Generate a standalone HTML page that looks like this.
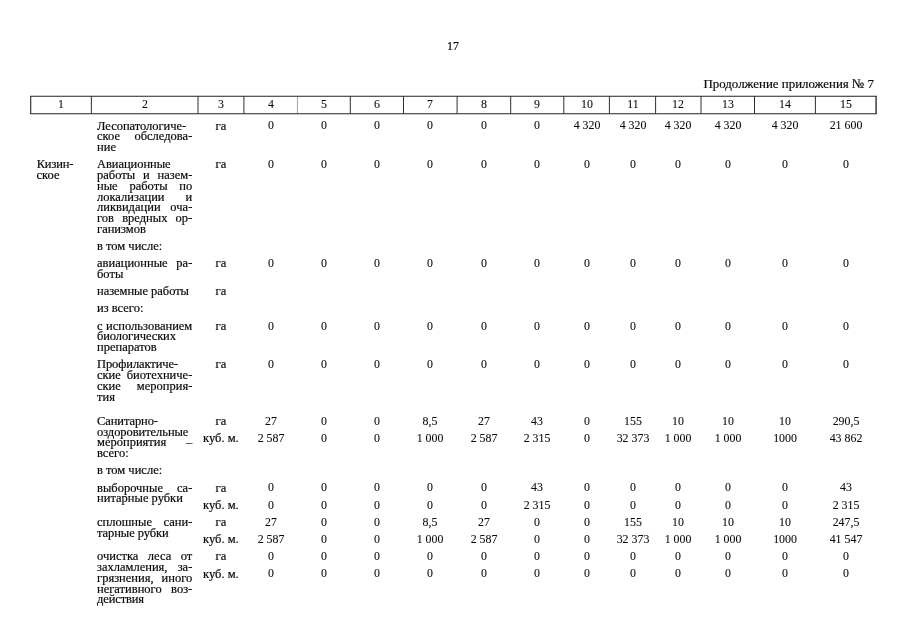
<!DOCTYPE html>
<html lang="ru">
<head>
<meta charset="utf-8">
<title>Продолжение приложения № 7</title>
<style>
html,body{margin:0;padding:0;background:#fff;}
body{width:905px;height:640px;position:relative;overflow:hidden;font-family:"Liberation Serif",serif;font-size:12.5px;color:#0a0a0a;}
#pg{position:absolute;left:0;top:0;width:905px;height:640px;will-change:transform;}
.t{position:absolute;white-space:nowrap;-webkit-text-stroke:0.2px #0a0a0a;line-height:16px;height:16px;margin:0;padding:0;}
.n{transform:scaleX(0.95);-webkit-text-stroke:0.08px #0a0a0a;}
svg{position:absolute;left:0;top:0;}
</style>
</head>
<body>
<svg width="905" height="640" viewBox="0 0 905 640">
<line x1="297.45" y1="96.25" x2="297.45" y2="113.75" stroke="#a2a2a2" stroke-width="1"/>
<line x1="30.7" y1="96.25" x2="30.7" y2="113.75" stroke="#2e2e2e" stroke-width="1.15"/>
<line x1="91.35" y1="96.25" x2="91.35" y2="113.75" stroke="#2e2e2e" stroke-width="1.0"/>
<line x1="198.0" y1="96.25" x2="198.0" y2="113.75" stroke="#2e2e2e" stroke-width="1.0"/>
<line x1="243.9" y1="96.25" x2="243.9" y2="113.75" stroke="#2e2e2e" stroke-width="1.0"/>
<line x1="350.3" y1="96.25" x2="350.3" y2="113.75" stroke="#2e2e2e" stroke-width="1.0"/>
<line x1="403.5" y1="96.25" x2="403.5" y2="113.75" stroke="#2e2e2e" stroke-width="1.0"/>
<line x1="457.1" y1="96.25" x2="457.1" y2="113.75" stroke="#2e2e2e" stroke-width="1.0"/>
<line x1="510.7" y1="96.25" x2="510.7" y2="113.75" stroke="#2e2e2e" stroke-width="1.0"/>
<line x1="563.8" y1="96.25" x2="563.8" y2="113.75" stroke="#2e2e2e" stroke-width="1.0"/>
<line x1="609.4" y1="96.25" x2="609.4" y2="113.75" stroke="#2e2e2e" stroke-width="1.0"/>
<line x1="655.6" y1="96.25" x2="655.6" y2="113.75" stroke="#2e2e2e" stroke-width="1.0"/>
<line x1="701.0" y1="96.25" x2="701.0" y2="113.75" stroke="#2e2e2e" stroke-width="1.0"/>
<line x1="754.5" y1="96.25" x2="754.5" y2="113.75" stroke="#2e2e2e" stroke-width="1.0"/>
<line x1="815.4" y1="96.25" x2="815.4" y2="113.75" stroke="#2e2e2e" stroke-width="1.0"/>
<line x1="876.1" y1="96.25" x2="876.1" y2="113.75" stroke="#2e2e2e" stroke-width="1.4"/>
<line x1="30.12" y1="96.25" x2="876.80" y2="96.25" stroke="#222" stroke-width="1.1"/>
<line x1="30.12" y1="113.75" x2="876.80" y2="113.75" stroke="#222" stroke-width="1.1"/>
</svg>
<div id="pg">
<div class="t" style="top:37.50px;font-size:13.5px;left:393.30px;width:120px;text-align:center;transform:scaleX(0.89);">17</div>
<div class="t" style="top:75.50px;font-size:13.4px;left:574.20px;width:300px;text-align:right;transform:scaleX(0.963);transform-origin:100% 50%;">Продолжение приложения № 7</div>
<div class="t n" style="top:96.00px;left:1.02px;width:120px;text-align:center;">1</div>
<div class="t n" style="top:96.00px;left:84.68px;width:120px;text-align:center;">2</div>
<div class="t n" style="top:96.00px;left:160.95px;width:120px;text-align:center;">3</div>
<div class="t n" style="top:96.00px;left:210.68px;width:120px;text-align:center;">4</div>
<div class="t n" style="top:96.00px;left:263.88px;width:120px;text-align:center;">5</div>
<div class="t n" style="top:96.00px;left:316.90px;width:120px;text-align:center;">6</div>
<div class="t n" style="top:96.00px;left:370.30px;width:120px;text-align:center;">7</div>
<div class="t n" style="top:96.00px;left:423.90px;width:120px;text-align:center;">8</div>
<div class="t n" style="top:96.00px;left:477.25px;width:120px;text-align:center;">9</div>
<div class="t n" style="top:96.00px;left:526.60px;width:120px;text-align:center;">10</div>
<div class="t n" style="top:96.00px;left:572.50px;width:120px;text-align:center;">11</div>
<div class="t n" style="top:96.00px;left:618.30px;width:120px;text-align:center;">12</div>
<div class="t n" style="top:96.00px;left:667.75px;width:120px;text-align:center;">13</div>
<div class="t n" style="top:96.00px;left:724.95px;width:120px;text-align:center;">14</div>
<div class="t n" style="top:96.00px;left:785.75px;width:120px;text-align:center;">15</div>
<div class="t" style="top:156.00px;left:36.70px;letter-spacing:-0.15px;">Кизин-</div>
<div class="t" style="top:167.00px;left:36.50px;">ское</div>
<div class="t" style="top:118.00px;left:97.00px;letter-spacing:-0.04px;">Лесопатологиче-</div>
<div class="t" style="top:128.00px;left:97.00px;width:95.30px;text-align:justify;text-align-last:justify;">ское обследова-</div>
<div class="t" style="top:139.00px;left:97.00px;">ние</div>
<div class="t" style="top:156.00px;left:97.00px;letter-spacing:-0.05px;">Авиационные</div>
<div class="t" style="top:167.00px;left:97.00px;width:95.30px;text-align:justify;text-align-last:justify;">работы и назем-</div>
<div class="t" style="top:178.00px;left:97.00px;width:95.30px;text-align:justify;text-align-last:justify;">ные работы по</div>
<div class="t" style="top:189.00px;left:97.00px;width:95.30px;text-align:justify;text-align-last:justify;">локализации и</div>
<div class="t" style="top:199.00px;left:97.00px;width:95.30px;text-align:justify;text-align-last:justify;">ликвидации оча-</div>
<div class="t" style="top:210.00px;left:97.00px;width:95.30px;text-align:justify;text-align-last:justify;">гов вредных ор-</div>
<div class="t" style="top:221.00px;left:97.00px;">ганизмов</div>
<div class="t" style="top:238.00px;left:97.00px;">в том числе:</div>
<div class="t" style="top:255.00px;left:97.00px;width:95.30px;text-align:justify;text-align-last:justify;">авиационные ра-</div>
<div class="t" style="top:266.00px;left:97.00px;">боты</div>
<div class="t" style="top:283.00px;left:97.00px;letter-spacing:-0.035px;">наземные работы</div>
<div class="t" style="top:300.00px;left:97.00px;">из всего:</div>
<div class="t" style="top:318.00px;left:97.00px;width:95.30px;text-align:justify;text-align-last:justify;">с использованием</div>
<div class="t" style="top:328.00px;left:97.00px;letter-spacing:-0.1px;">биологических</div>
<div class="t" style="top:339.00px;left:97.00px;">препаратов</div>
<div class="t" style="top:356.00px;left:97.00px;letter-spacing:-0.08px;">Профилактиче-</div>
<div class="t" style="top:367.00px;left:97.00px;width:95.30px;text-align:justify;text-align-last:justify;">ские биотехниче-</div>
<div class="t" style="top:378.00px;left:97.00px;width:95.30px;text-align:justify;text-align-last:justify;">ские мероприя-</div>
<div class="t" style="top:389.00px;left:97.00px;">тия</div>
<div class="t" style="top:413.00px;left:97.00px;letter-spacing:-0.09px;">Санитарно-</div>
<div class="t" style="top:424.00px;left:97.00px;letter-spacing:-0.06px;">оздоровительные</div>
<div class="t" style="top:434.00px;left:97.00px;width:95.30px;text-align:justify;text-align-last:justify;">мероприятия <span style="color:#a8a8a8">–</span></div>
<div class="t" style="top:445.00px;left:97.00px;">всего:</div>
<div class="t" style="top:462.00px;left:97.00px;">в том числе:</div>
<div class="t" style="top:480.00px;left:97.00px;width:95.30px;text-align:justify;text-align-last:justify;">выборочные са-</div>
<div class="t" style="top:490.00px;left:97.00px;">нитарные рубки</div>
<div class="t" style="top:514.00px;left:97.00px;width:95.30px;text-align:justify;text-align-last:justify;">сплошные сани-</div>
<div class="t" style="top:525.00px;left:97.00px;letter-spacing:-0.06px;">тарные рубки</div>
<div class="t" style="top:548.00px;left:97.00px;width:95.30px;text-align:justify;text-align-last:justify;">очистка леса от</div>
<div class="t" style="top:559.00px;left:97.00px;width:95.30px;text-align:justify;text-align-last:justify;">захламления, за-</div>
<div class="t" style="top:570.00px;left:97.00px;width:95.30px;text-align:justify;text-align-last:justify;">грязнения, иного</div>
<div class="t" style="top:581.00px;left:97.00px;width:95.30px;text-align:justify;text-align-last:justify;">негативного воз-</div>
<div class="t" style="top:591.00px;left:97.00px;letter-spacing:-0.13px;">действия</div>
<div class="t" style="top:118.00px;left:160.95px;width:120px;text-align:center;">га</div>
<div class="t n" style="top:117.00px;left:210.68px;width:120px;text-align:center;">0</div>
<div class="t n" style="top:117.00px;left:263.88px;width:120px;text-align:center;">0</div>
<div class="t n" style="top:117.00px;left:316.90px;width:120px;text-align:center;">0</div>
<div class="t n" style="top:117.00px;left:370.30px;width:120px;text-align:center;">0</div>
<div class="t n" style="top:117.00px;left:423.90px;width:120px;text-align:center;">0</div>
<div class="t n" style="top:117.00px;left:477.25px;width:120px;text-align:center;">0</div>
<div class="t n" style="top:117.00px;left:526.60px;width:120px;text-align:center;">4 320</div>
<div class="t n" style="top:117.00px;left:572.50px;width:120px;text-align:center;">4 320</div>
<div class="t n" style="top:117.00px;left:618.30px;width:120px;text-align:center;">4 320</div>
<div class="t n" style="top:117.00px;left:667.75px;width:120px;text-align:center;">4 320</div>
<div class="t n" style="top:117.00px;left:724.95px;width:120px;text-align:center;">4 320</div>
<div class="t n" style="top:117.00px;left:785.75px;width:120px;text-align:center;">21 600</div>
<div class="t" style="top:156.00px;left:160.95px;width:120px;text-align:center;">га</div>
<div class="t n" style="top:156.00px;left:210.68px;width:120px;text-align:center;">0</div>
<div class="t n" style="top:156.00px;left:263.88px;width:120px;text-align:center;">0</div>
<div class="t n" style="top:156.00px;left:316.90px;width:120px;text-align:center;">0</div>
<div class="t n" style="top:156.00px;left:370.30px;width:120px;text-align:center;">0</div>
<div class="t n" style="top:156.00px;left:423.90px;width:120px;text-align:center;">0</div>
<div class="t n" style="top:156.00px;left:477.25px;width:120px;text-align:center;">0</div>
<div class="t n" style="top:156.00px;left:526.60px;width:120px;text-align:center;">0</div>
<div class="t n" style="top:156.00px;left:572.50px;width:120px;text-align:center;">0</div>
<div class="t n" style="top:156.00px;left:618.30px;width:120px;text-align:center;">0</div>
<div class="t n" style="top:156.00px;left:667.75px;width:120px;text-align:center;">0</div>
<div class="t n" style="top:156.00px;left:724.95px;width:120px;text-align:center;">0</div>
<div class="t n" style="top:156.00px;left:785.75px;width:120px;text-align:center;">0</div>
<div class="t" style="top:255.00px;left:160.95px;width:120px;text-align:center;">га</div>
<div class="t n" style="top:255.00px;left:210.68px;width:120px;text-align:center;">0</div>
<div class="t n" style="top:255.00px;left:263.88px;width:120px;text-align:center;">0</div>
<div class="t n" style="top:255.00px;left:316.90px;width:120px;text-align:center;">0</div>
<div class="t n" style="top:255.00px;left:370.30px;width:120px;text-align:center;">0</div>
<div class="t n" style="top:255.00px;left:423.90px;width:120px;text-align:center;">0</div>
<div class="t n" style="top:255.00px;left:477.25px;width:120px;text-align:center;">0</div>
<div class="t n" style="top:255.00px;left:526.60px;width:120px;text-align:center;">0</div>
<div class="t n" style="top:255.00px;left:572.50px;width:120px;text-align:center;">0</div>
<div class="t n" style="top:255.00px;left:618.30px;width:120px;text-align:center;">0</div>
<div class="t n" style="top:255.00px;left:667.75px;width:120px;text-align:center;">0</div>
<div class="t n" style="top:255.00px;left:724.95px;width:120px;text-align:center;">0</div>
<div class="t n" style="top:255.00px;left:785.75px;width:120px;text-align:center;">0</div>
<div class="t" style="top:283.00px;left:160.95px;width:120px;text-align:center;">га</div>
<div class="t" style="top:318.00px;left:160.95px;width:120px;text-align:center;">га</div>
<div class="t n" style="top:318.00px;left:210.68px;width:120px;text-align:center;">0</div>
<div class="t n" style="top:318.00px;left:263.88px;width:120px;text-align:center;">0</div>
<div class="t n" style="top:318.00px;left:316.90px;width:120px;text-align:center;">0</div>
<div class="t n" style="top:318.00px;left:370.30px;width:120px;text-align:center;">0</div>
<div class="t n" style="top:318.00px;left:423.90px;width:120px;text-align:center;">0</div>
<div class="t n" style="top:318.00px;left:477.25px;width:120px;text-align:center;">0</div>
<div class="t n" style="top:318.00px;left:526.60px;width:120px;text-align:center;">0</div>
<div class="t n" style="top:318.00px;left:572.50px;width:120px;text-align:center;">0</div>
<div class="t n" style="top:318.00px;left:618.30px;width:120px;text-align:center;">0</div>
<div class="t n" style="top:318.00px;left:667.75px;width:120px;text-align:center;">0</div>
<div class="t n" style="top:318.00px;left:724.95px;width:120px;text-align:center;">0</div>
<div class="t n" style="top:318.00px;left:785.75px;width:120px;text-align:center;">0</div>
<div class="t" style="top:356.00px;left:160.95px;width:120px;text-align:center;">га</div>
<div class="t n" style="top:356.00px;left:210.68px;width:120px;text-align:center;">0</div>
<div class="t n" style="top:356.00px;left:263.88px;width:120px;text-align:center;">0</div>
<div class="t n" style="top:356.00px;left:316.90px;width:120px;text-align:center;">0</div>
<div class="t n" style="top:356.00px;left:370.30px;width:120px;text-align:center;">0</div>
<div class="t n" style="top:356.00px;left:423.90px;width:120px;text-align:center;">0</div>
<div class="t n" style="top:356.00px;left:477.25px;width:120px;text-align:center;">0</div>
<div class="t n" style="top:356.00px;left:526.60px;width:120px;text-align:center;">0</div>
<div class="t n" style="top:356.00px;left:572.50px;width:120px;text-align:center;">0</div>
<div class="t n" style="top:356.00px;left:618.30px;width:120px;text-align:center;">0</div>
<div class="t n" style="top:356.00px;left:667.75px;width:120px;text-align:center;">0</div>
<div class="t n" style="top:356.00px;left:724.95px;width:120px;text-align:center;">0</div>
<div class="t n" style="top:356.00px;left:785.75px;width:120px;text-align:center;">0</div>
<div class="t" style="top:413.00px;left:160.95px;width:120px;text-align:center;">га</div>
<div class="t n" style="top:413.00px;left:210.68px;width:120px;text-align:center;">27</div>
<div class="t n" style="top:413.00px;left:263.88px;width:120px;text-align:center;">0</div>
<div class="t n" style="top:413.00px;left:316.90px;width:120px;text-align:center;">0</div>
<div class="t n" style="top:413.00px;left:370.30px;width:120px;text-align:center;">8,5</div>
<div class="t n" style="top:413.00px;left:423.90px;width:120px;text-align:center;">27</div>
<div class="t n" style="top:413.00px;left:477.25px;width:120px;text-align:center;">43</div>
<div class="t n" style="top:413.00px;left:526.60px;width:120px;text-align:center;">0</div>
<div class="t n" style="top:413.00px;left:572.50px;width:120px;text-align:center;">155</div>
<div class="t n" style="top:413.00px;left:618.30px;width:120px;text-align:center;">10</div>
<div class="t n" style="top:413.00px;left:667.75px;width:120px;text-align:center;">10</div>
<div class="t n" style="top:413.00px;left:724.95px;width:120px;text-align:center;">10</div>
<div class="t n" style="top:413.00px;left:785.75px;width:120px;text-align:center;">290,5</div>
<div class="t" style="top:430.00px;left:160.95px;width:120px;text-align:center;">куб. м.</div>
<div class="t n" style="top:430.00px;left:210.68px;width:120px;text-align:center;">2 587</div>
<div class="t n" style="top:430.00px;left:263.88px;width:120px;text-align:center;">0</div>
<div class="t n" style="top:430.00px;left:316.90px;width:120px;text-align:center;">0</div>
<div class="t n" style="top:430.00px;left:370.30px;width:120px;text-align:center;">1 000</div>
<div class="t n" style="top:430.00px;left:423.90px;width:120px;text-align:center;">2 587</div>
<div class="t n" style="top:430.00px;left:477.25px;width:120px;text-align:center;">2 315</div>
<div class="t n" style="top:430.00px;left:526.60px;width:120px;text-align:center;">0</div>
<div class="t n" style="top:430.00px;left:572.50px;width:120px;text-align:center;">32 373</div>
<div class="t n" style="top:430.00px;left:618.30px;width:120px;text-align:center;">1 000</div>
<div class="t n" style="top:430.00px;left:667.75px;width:120px;text-align:center;">1 000</div>
<div class="t n" style="top:430.00px;left:724.95px;width:120px;text-align:center;">1000</div>
<div class="t n" style="top:430.00px;left:785.75px;width:120px;text-align:center;">43 862</div>
<div class="t" style="top:480.00px;left:160.95px;width:120px;text-align:center;">га</div>
<div class="t n" style="top:479.00px;left:210.68px;width:120px;text-align:center;">0</div>
<div class="t n" style="top:479.00px;left:263.88px;width:120px;text-align:center;">0</div>
<div class="t n" style="top:479.00px;left:316.90px;width:120px;text-align:center;">0</div>
<div class="t n" style="top:479.00px;left:370.30px;width:120px;text-align:center;">0</div>
<div class="t n" style="top:479.00px;left:423.90px;width:120px;text-align:center;">0</div>
<div class="t n" style="top:479.00px;left:477.25px;width:120px;text-align:center;">43</div>
<div class="t n" style="top:479.00px;left:526.60px;width:120px;text-align:center;">0</div>
<div class="t n" style="top:479.00px;left:572.50px;width:120px;text-align:center;">0</div>
<div class="t n" style="top:479.00px;left:618.30px;width:120px;text-align:center;">0</div>
<div class="t n" style="top:479.00px;left:667.75px;width:120px;text-align:center;">0</div>
<div class="t n" style="top:479.00px;left:724.95px;width:120px;text-align:center;">0</div>
<div class="t n" style="top:479.00px;left:785.75px;width:120px;text-align:center;">43</div>
<div class="t" style="top:497.00px;left:160.95px;width:120px;text-align:center;">куб. м.</div>
<div class="t n" style="top:497.00px;left:210.68px;width:120px;text-align:center;">0</div>
<div class="t n" style="top:497.00px;left:263.88px;width:120px;text-align:center;">0</div>
<div class="t n" style="top:497.00px;left:316.90px;width:120px;text-align:center;">0</div>
<div class="t n" style="top:497.00px;left:370.30px;width:120px;text-align:center;">0</div>
<div class="t n" style="top:497.00px;left:423.90px;width:120px;text-align:center;">0</div>
<div class="t n" style="top:497.00px;left:477.25px;width:120px;text-align:center;">2 315</div>
<div class="t n" style="top:497.00px;left:526.60px;width:120px;text-align:center;">0</div>
<div class="t n" style="top:497.00px;left:572.50px;width:120px;text-align:center;">0</div>
<div class="t n" style="top:497.00px;left:618.30px;width:120px;text-align:center;">0</div>
<div class="t n" style="top:497.00px;left:667.75px;width:120px;text-align:center;">0</div>
<div class="t n" style="top:497.00px;left:724.95px;width:120px;text-align:center;">0</div>
<div class="t n" style="top:497.00px;left:785.75px;width:120px;text-align:center;">2 315</div>
<div class="t" style="top:514.00px;left:160.95px;width:120px;text-align:center;">га</div>
<div class="t n" style="top:514.00px;left:210.68px;width:120px;text-align:center;">27</div>
<div class="t n" style="top:514.00px;left:263.88px;width:120px;text-align:center;">0</div>
<div class="t n" style="top:514.00px;left:316.90px;width:120px;text-align:center;">0</div>
<div class="t n" style="top:514.00px;left:370.30px;width:120px;text-align:center;">8,5</div>
<div class="t n" style="top:514.00px;left:423.90px;width:120px;text-align:center;">27</div>
<div class="t n" style="top:514.00px;left:477.25px;width:120px;text-align:center;">0</div>
<div class="t n" style="top:514.00px;left:526.60px;width:120px;text-align:center;">0</div>
<div class="t n" style="top:514.00px;left:572.50px;width:120px;text-align:center;">155</div>
<div class="t n" style="top:514.00px;left:618.30px;width:120px;text-align:center;">10</div>
<div class="t n" style="top:514.00px;left:667.75px;width:120px;text-align:center;">10</div>
<div class="t n" style="top:514.00px;left:724.95px;width:120px;text-align:center;">10</div>
<div class="t n" style="top:514.00px;left:785.75px;width:120px;text-align:center;">247,5</div>
<div class="t" style="top:531.00px;left:160.95px;width:120px;text-align:center;">куб. м.</div>
<div class="t n" style="top:531.00px;left:210.68px;width:120px;text-align:center;">2 587</div>
<div class="t n" style="top:531.00px;left:263.88px;width:120px;text-align:center;">0</div>
<div class="t n" style="top:531.00px;left:316.90px;width:120px;text-align:center;">0</div>
<div class="t n" style="top:531.00px;left:370.30px;width:120px;text-align:center;">1 000</div>
<div class="t n" style="top:531.00px;left:423.90px;width:120px;text-align:center;">2 587</div>
<div class="t n" style="top:531.00px;left:477.25px;width:120px;text-align:center;">0</div>
<div class="t n" style="top:531.00px;left:526.60px;width:120px;text-align:center;">0</div>
<div class="t n" style="top:531.00px;left:572.50px;width:120px;text-align:center;">32 373</div>
<div class="t n" style="top:531.00px;left:618.30px;width:120px;text-align:center;">1 000</div>
<div class="t n" style="top:531.00px;left:667.75px;width:120px;text-align:center;">1 000</div>
<div class="t n" style="top:531.00px;left:724.95px;width:120px;text-align:center;">1000</div>
<div class="t n" style="top:531.00px;left:785.75px;width:120px;text-align:center;">41 547</div>
<div class="t" style="top:548.00px;left:160.95px;width:120px;text-align:center;">га</div>
<div class="t n" style="top:548.00px;left:210.68px;width:120px;text-align:center;">0</div>
<div class="t n" style="top:548.00px;left:263.88px;width:120px;text-align:center;">0</div>
<div class="t n" style="top:548.00px;left:316.90px;width:120px;text-align:center;">0</div>
<div class="t n" style="top:548.00px;left:370.30px;width:120px;text-align:center;">0</div>
<div class="t n" style="top:548.00px;left:423.90px;width:120px;text-align:center;">0</div>
<div class="t n" style="top:548.00px;left:477.25px;width:120px;text-align:center;">0</div>
<div class="t n" style="top:548.00px;left:526.60px;width:120px;text-align:center;">0</div>
<div class="t n" style="top:548.00px;left:572.50px;width:120px;text-align:center;">0</div>
<div class="t n" style="top:548.00px;left:618.30px;width:120px;text-align:center;">0</div>
<div class="t n" style="top:548.00px;left:667.75px;width:120px;text-align:center;">0</div>
<div class="t n" style="top:548.00px;left:724.95px;width:120px;text-align:center;">0</div>
<div class="t n" style="top:548.00px;left:785.75px;width:120px;text-align:center;">0</div>
<div class="t" style="top:566.00px;left:160.95px;width:120px;text-align:center;">куб. м.</div>
<div class="t n" style="top:565.00px;left:210.68px;width:120px;text-align:center;">0</div>
<div class="t n" style="top:565.00px;left:263.88px;width:120px;text-align:center;">0</div>
<div class="t n" style="top:565.00px;left:316.90px;width:120px;text-align:center;">0</div>
<div class="t n" style="top:565.00px;left:370.30px;width:120px;text-align:center;">0</div>
<div class="t n" style="top:565.00px;left:423.90px;width:120px;text-align:center;">0</div>
<div class="t n" style="top:565.00px;left:477.25px;width:120px;text-align:center;">0</div>
<div class="t n" style="top:565.00px;left:526.60px;width:120px;text-align:center;">0</div>
<div class="t n" style="top:565.00px;left:572.50px;width:120px;text-align:center;">0</div>
<div class="t n" style="top:565.00px;left:618.30px;width:120px;text-align:center;">0</div>
<div class="t n" style="top:565.00px;left:667.75px;width:120px;text-align:center;">0</div>
<div class="t n" style="top:565.00px;left:724.95px;width:120px;text-align:center;">0</div>
<div class="t n" style="top:565.00px;left:785.75px;width:120px;text-align:center;">0</div>
</div>
</body>
</html>
